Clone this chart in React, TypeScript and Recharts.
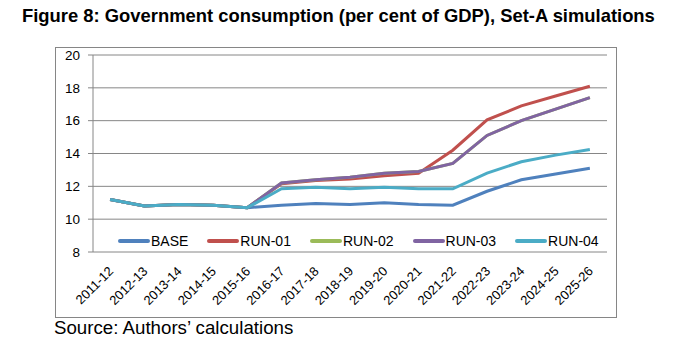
import { CartesianGrid, Line, LineChart, XAxis, YAxis } from 'recharts'

const years = [
  '2011-12', '2012-13', '2013-14', '2014-15', '2015-16', '2016-17', '2017-18', '2018-19',
  '2019-20', '2020-21', '2021-22', '2022-23', '2023-24', '2024-25', '2025-26',
]
const base = [11.2, 10.8, 10.9, 10.85, 10.7, 10.85, 10.95, 10.9, 11.0, 10.9, 10.85, 11.7, 12.4, 12.75, 13.1]
const run01 = [11.2, 10.8, 10.9, 10.85, 10.7, 12.15, 12.35, 12.45, 12.65, 12.8, 14.2, 16.05, 16.9, 17.5, 18.1]
const run02 = [11.2, 10.8, 10.9, 10.85, 10.7, 12.2, 12.4, 12.55, 12.8, 12.9, 13.4, 15.1, 16.0, 16.7, 17.4]
const run03 = [11.2, 10.8, 10.9, 10.85, 10.7, 12.2, 12.4, 12.55, 12.8, 12.9, 13.4, 15.1, 16.0, 16.7, 17.4]
const run04 = [11.2, 10.8, 10.9, 10.85, 10.7, 11.85, 11.95, 11.85, 11.95, 11.85, 11.85, 12.8, 13.5, 13.9, 14.25]
const yTicks = [8, 10, 12, 14, 16, 18, 20]

const series = [
  { key: 'BASE', color: '#4F81BD' },
  { key: 'RUN-01', color: '#C0504D' },
  { key: 'RUN-02', color: '#9BBB59' },
  { key: 'RUN-03', color: '#8064A2' },
  { key: 'RUN-04', color: '#4BACC6' },
]

const data = years.map((y, i) => ({
  x: i + 0.5,
  year: y,
  BASE: base[i],
  'RUN-01': run01[i],
  'RUN-02': run02[i],
  'RUN-03': run03[i],
  'RUN-04': run04[i],
}))

const centerTicks = years.map((_, i) => i + 0.5)
const edgeTicks = [...years.map((_, i) => i), years.length]

const YearTick = (props: any) => {
  const { x, y, payload } = props
  const label = years[Math.round(payload.value - 0.5)]
  const ax = x + 4
  const ay = y + 12
  return (
    <text x={ax} y={ay} transform={`rotate(-45 ${ax} ${ay})`} textAnchor="end" fontSize={13} fill="#000">
      {label}
    </text>
  )
}

export default function App() {
  return (
    <div
      style={{
        position: 'absolute',
        left: 0,
        top: 0,
        width: 688,
        height: 354,
        background: '#fff',
        fontFamily: '"Liberation Sans", Arial, sans-serif',
      }}
    >
      <div style={{ position: 'absolute', left: 22, top: 5, fontSize: 18.4, fontWeight: 'bold', whiteSpace: 'nowrap' }}>
        Figure 8: Government consumption (per cent of GDP), Set-A simulations
      </div>
      <div
        style={{
          position: 'absolute',
          left: 55,
          top: 47,
          width: 562,
          height: 271,
          border: '1px solid #868686',
          boxSizing: 'border-box',
        }}
      />
      <div style={{ position: 'absolute', left: 0, top: 0 }}>
        <LineChart width={688} height={354} data={data} margin={{ top: 55, right: 81, left: 53, bottom: 42 }}>
          <CartesianGrid vertical={false} stroke="#868686" />
          <XAxis
            xAxisId="edge"
            type="number"
            dataKey="x"
            domain={[0, years.length]}
            ticks={edgeTicks}
            tickFormatter={() => ''}
            height={0}
            stroke="#868686"
            tickSize={5}
            interval={0}
          />
          <XAxis
            xAxisId="cat"
            type="number"
            dataKey="x"
            domain={[0, years.length]}
            ticks={centerTicks}
            tick={<YearTick />}
            tickLine={false}
            axisLine={false}
            height={60}
            interval={0}
          />
          <YAxis
            domain={[8, 20]}
            ticks={yTicks}
            width={40}
            stroke="#868686"
            tickSize={5}
            tickMargin={8}
            tick={{ fontSize: 13.5, fill: '#000' }}
            interval={0}
          />
          {series.map((s) => (
            <Line
              key={s.key}
              xAxisId="cat"
              type="linear"
              dataKey={s.key}
              stroke={s.color}
              strokeWidth={3}
              dot={false}
              isAnimationActive={false}
            />
          ))}
        </LineChart>
      </div>
      <div
        style={{
          position: 'absolute',
          left: 118,
          top: 233,
          display: 'flex',
          gap: 19,
          fontSize: 14,
          color: '#000',
          whiteSpace: 'nowrap',
        }}
      >
        {series.map((s) => (
          <div key={s.key} style={{ display: 'flex', alignItems: 'center' }}>
            <div style={{ width: 32, height: 4, borderRadius: 2, background: s.color }} />
            <span style={{ marginLeft: 1 }}>{s.key}</span>
          </div>
        ))}
      </div>
      <div style={{ position: 'absolute', left: 54, top: 317, fontSize: 18.7, whiteSpace: 'nowrap' }}>
        Source: Authors’ calculations
      </div>
    </div>
  )
}
